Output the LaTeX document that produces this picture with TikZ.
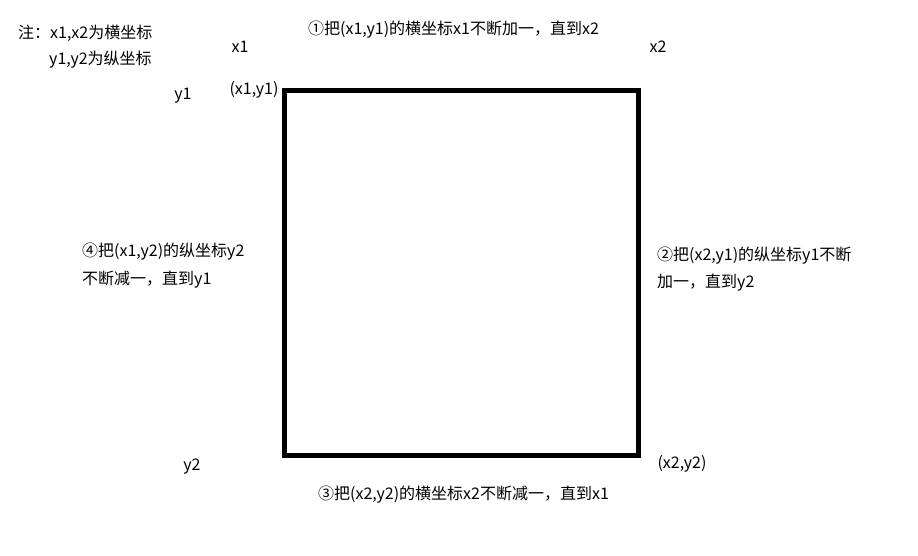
\documentclass[tikz,border=0pt]{standalone}
\usepackage{fontspec}
\setmainfont{Noto Sans CJK SC}
\begin{document}
\begin{tikzpicture}[x=1pt,y=-1pt,
  lbl/.style={inner sep=0pt,font=\fontsize{16}{19}\selectfont},
  lft/.style={lbl,anchor=west}]
\useasboundingbox (0,0) rectangle (918,555);
\draw[line width=5pt] (284,90) rectangle (638,455);
\node[lft] (note1) at (18,33) {注：x1,x2为横坐标};
\node[lft] (note2) at (49,60) {y1,y2为纵坐标};
\node[lbl] (x1) at (240,47) {x1};
\node[lbl] (x2) at (658,47) {x2};
\node[lbl] (y1) at (183,96) {y1};
\node[lbl] (y2) at (192,467) {y2};
\node[lbl] (p11) at (254,90) {(x1,y1)};
\node[lbl] (p22) at (682,464) {(x2,y2)};
\node[lft] (s1) at (308,30) {①把(x1,y1)的横坐标x1不断加一，直到x2};
\node[lft] (s2a) at (657,256) {②把(x2,y1)的纵坐标y1不断};
\node[lft] (s2b) at (657,283) {加一，直到y2};
\node[lft] (s3) at (318,495) {③把(x2,y2)的横坐标x2不断减一，直到x1};
\node[lft] (s4a) at (82,252) {④把(x1,y2)的纵坐标y2};
\node[lft] (s4b) at (82,280) {不断减一，直到y1};
\end{tikzpicture}
\end{document}
